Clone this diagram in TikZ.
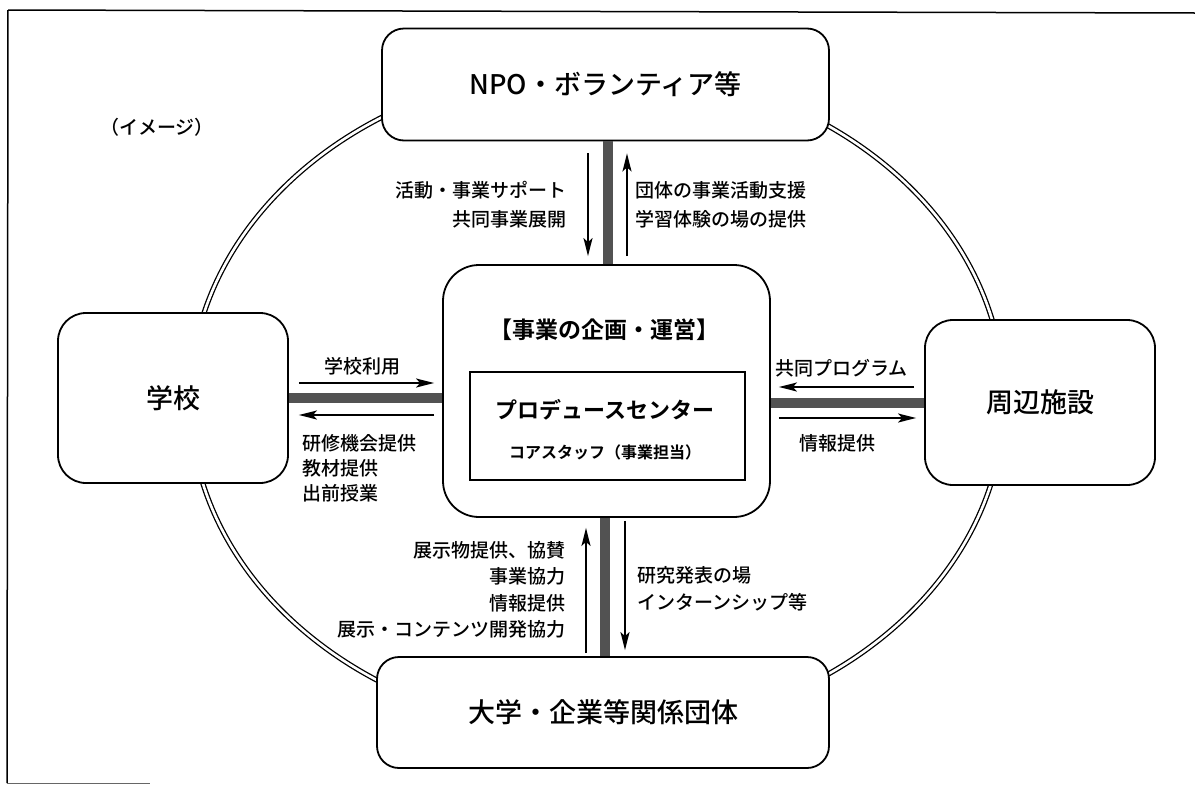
\documentclass[tikz,border=0pt]{standalone}
\usepackage{fontspec}
\setmainfont{Noto Sans CJK JP}[BoldFont={Noto Sans CJK JP Bold}]
\newfontfamily\jpmed{Noto Sans CJK JP Medium}
\usetikzlibrary{arrows.meta}
\begin{document}
\begin{tikzpicture}[x=1pt,y=-1pt,
  box/.style={draw, line width=1.8pt, rounded corners=22pt, fill=white, inner sep=0pt, font=\jpmed\fontsize{27}{30}\selectfont},
  bar/.style={line width=10pt, draw=black!68},
  arr/.style={line width=1.8pt, -{Stealth[length=18pt,width=9pt,inset=4pt]}},
  lbl/.style={inner sep=0pt, font=\jpmed\fontsize{19}{29}\selectfont},
  frame/.style={line width=1.5pt},
]
\useasboundingbox (0,0) rectangle (1195,785);
% frame
\draw[frame] (8,10) -- (1195,13);
\draw[frame] (8,10) -- (7,783);
\draw[line width=1pt, black!60] (7,783) -- (150,783);

% ring
\draw[line width=1.3pt, double=white, double distance=2.6pt] (597,400) ellipse [x radius=407pt, y radius=333pt];

% boxes
\node[box, minimum width=447pt, minimum height=112pt] (npo) at (605.5,84.5) {NPO・ボランティア等};
\node[box, minimum width=230pt, minimum height=170pt, rounded corners=28pt] (school) at (173,398) {学校};
\node[box, minimum width=230pt, minimum height=165pt, rounded corners=28pt] (fac) at (1040,402.5) {周辺施設};
\node[box, minimum width=452pt, minimum height=111pt] (univ) at (603,712.5) {大学・企業等関係団体};
\node[box, minimum width=327pt, minimum height=252pt, rounded corners=36pt] (ctr) at (606.5,391) {};
\node[draw, line width=1.2pt, minimum width=275pt, minimum height=108pt, inner sep=0pt] (pc) at (607.5,426) {};

\node[inner sep=0pt, font=\fontsize{23}{26}\selectfont\bfseries] (ttl) at (604,330) {【事業の企画・運営】};
\node[inner sep=0pt, font=\fontsize{22}{26}\selectfont\bfseries] (pcname) at (605,410) {プロデュースセンター};
\node[inner sep=0pt, font=\fontsize{16}{20}\selectfont\bfseries] (staff) at (605,452) {コアスタッフ（事業担当）};

\node[lbl] (img) at (157,127) {（イメージ）};

% top connector
\draw[bar] ([xshift=2.5pt]npo.south) -- ([xshift=1.5pt]ctr.north);
\draw[arr] ([xshift=-17.5pt,yshift=-12pt]npo.south) -- ([xshift=-18.5pt,yshift=8pt]ctr.north);
\draw[arr] ([xshift=20.5pt,yshift=8pt]ctr.north) -- ([xshift=21.5pt,yshift=-12pt]npo.south);
\node[lbl, anchor=east, align=right] (tl) at (567,205) {活動・事業サポート\\共同事業展開};
\node[lbl, anchor=west, align=left] (tr) at (635,205) {団体の事業活動支援\\学習体験の場の提供};

% bottom connector
\draw[bar] ([xshift=-1.5pt]ctr.south) -- ([xshift=2pt]univ.north);
\draw[arr] ([xshift=-17pt,yshift=3pt]univ.north) -- ([xshift=-20.5pt,yshift=-10pt]ctr.south);
\draw[arr] ([xshift=18.5pt,yshift=-3pt]ctr.south) -- ([xshift=22pt,yshift=6pt]univ.north);
\node[lbl, anchor=east, align=right, font=\jpmed\fontsize{19}{26.5}\selectfont] (bl) at (566,590) {展示物提供、協賛\\事業協力\\情報提供\\展示・コンテンツ開発協力};
\node[lbl, anchor=west, align=left, font=\jpmed\fontsize{19}{27}\selectfont] (br) at (637,588.5) {研究発表の場\\インターンシップ等};

% left connector
\draw[bar] (school.east) -- ([yshift=-7pt]ctr.west);
\draw[arr] ([xshift=10pt,yshift=15pt]school.east) -- ([xshift=-8pt,yshift=8pt]ctr.west);
\draw[arr] ([xshift=-8pt,yshift=-24pt]ctr.west) -- ([xshift=10pt,yshift=-17pt]school.east);
\node[lbl] (ll1) at (362,366) {学校利用};
\node[lbl, anchor=west, align=left, font=\jpmed\fontsize{19}{25}\selectfont] (ll2) at (302,468) {研修機会提供\\教材提供\\出前授業};

% right connector
\draw[bar] ([yshift=-12pt]ctr.east) -- ([yshift=-0.5pt]fac.west);
\draw[arr] ([xshift=-10pt,yshift=15.5pt]fac.west) -- ([xshift=8pt,yshift=4pt]ctr.east);
\draw[arr] ([xshift=8pt,yshift=-27pt]ctr.east) -- ([xshift=-8pt,yshift=-15.5pt]fac.west);
\node[lbl, anchor=west] (rl1) at (775,368) {共同プログラム};
\node[lbl] (rl2) at (837,443) {情報提供};
\end{tikzpicture}
\end{document}
